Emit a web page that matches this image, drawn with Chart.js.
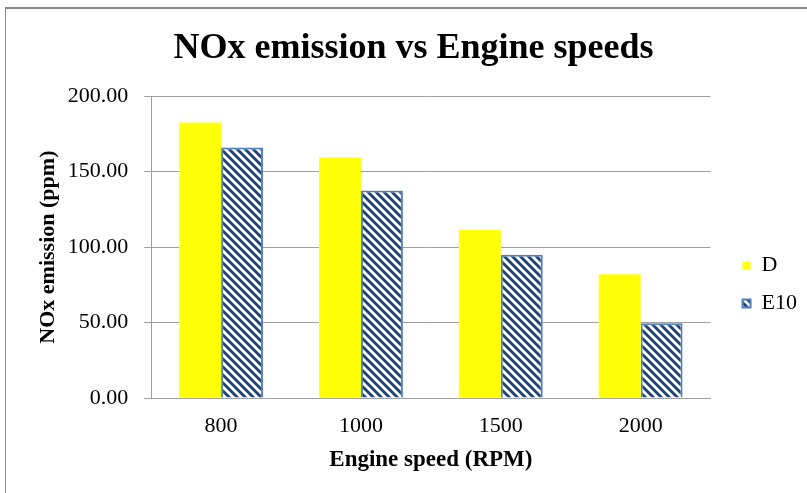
<!DOCTYPE html>
<html>
<head>
<meta charset="utf-8">
<script src="https://cdn.jsdelivr.net/npm/chart.js@4"></script>
<style>
  html, body { margin: 0; padding: 0; background: #fff; }
  #wrap { position: relative; width: 807px; height: 493px; overflow: hidden; }
  #frame { position: absolute; left: 5px; top: 7px; width: 820px; height: 500px; border: 1px solid #888; border-top-width: 2px; box-sizing: border-box; }
  canvas { position: absolute; left: 0; top: 0; }
</style>
</head>
<body>
<div id="wrap">
  <div id="frame"></div>
  <canvas id="noxChart" width="807" height="493"></canvas>
</div>
<script>
const speeds = ['800', '1000', '1500', '2000'];
const dValues = [182.5, 159.5, 111.5, 82.0];
const e10Values = [166.0, 137.5, 95.0, 49.5];
const yTicks = [0, 50, 100, 150, 200];

const serif = '"Liberation Serif", "Times New Roman", serif';

function dotPattern() {
  const c = document.createElement('canvas');
  c.width = 4; c.height = 4;
  const g = c.getContext('2d');
  g.fillStyle = '#ffff00';
  g.fillRect(0, 0, 4, 4);
  g.fillStyle = '#ffffc4';
  g.fillRect(1, 0, 1, 1);
  g.fillRect(0, 1, 1, 1);
  g.fillRect(2, 1, 1, 1);
  g.fillRect(1, 2, 1, 1);
  g.fillStyle = '#ffff70';
  g.fillRect(3, 3, 1, 1);
  return g.createPattern(c, 'repeat');
}

function stripePattern() {
  const c = document.createElement('canvas');
  c.width = 8; c.height = 8;
  const g = c.getContext('2d');
  g.fillStyle = '#ffffff';
  g.fillRect(0, 0, 8, 8);
  g.strokeStyle = '#1f4178';
  g.lineWidth = 2.8;
  [-8, 0, 8].forEach((o) => {
    g.beginPath();
    g.moveTo(o - 1, -1);
    g.lineTo(o + 9, 9);
    g.stroke();
  });
  return g.createPattern(c, 'repeat');
}

const ctx = document.getElementById('noxChart');
new Chart(ctx, {
  type: 'bar',
  data: {
    labels: speeds,
    datasets: [
      {
        label: 'D',
        data: dValues,
        backgroundColor: dotPattern(),
        borderWidth: 0,
      },
      {
        label: 'E10',
        data: e10Values,
        backgroundColor: stripePattern(),
        borderColor: '#4f7fbd',
        borderWidth: 2,
      },
    ],
  },
  options: {
    responsive: false,
    animation: false,
    layout: { padding: { left: 20, right: 0, top: 15, bottom: 19 } },
    datasets: { bar: { categoryPercentage: 0.6, barPercentage: 1 } },
    plugins: {
      title: {
        display: true,
        text: 'NOx emission vs Engine speeds',
        color: '#000',
        font: { family: serif, size: 36, weight: 'bold' },
        padding: { top: 12, bottom: 26 },
      },
      legend: {
        position: 'right',
        title: { display: true, text: ' ', font: { size: 10 }, padding: { top: 68, bottom: 0 } },
        labels: {
          color: '#000',
          font: { family: serif, size: 22 },
          boxWidth: 8,
          boxHeight: 8,
          padding: 16,
        },
      },
      tooltip: { enabled: false },
    },
    scales: {
      x: {
        grid: { display: false, tickLength: 8 },
        border: { display: true, color: '#a0a0a0' },
        ticks: { color: '#000', font: { family: serif, size: 22 }, padding: 7 },
        title: {
          display: true,
          text: 'Engine speed (RPM)',
          color: '#000',
          font: { family: serif, size: 23, weight: 'bold' },
          padding: { top: 0, bottom: 0 },
        },
      },
      y: {
        min: 0,
        max: 200,
        afterBuildTicks: (axis) => { axis.ticks = yTicks.map((v) => ({ value: v })); },
        grid: { color: '#a0a0a0', tickLength: 7, drawTicks: true },
        border: { display: true, color: '#a0a0a0' },
        ticks: {
          color: '#000',
          font: { family: serif, size: 22 },
          padding: 16,
          callback: (v) => Number(v).toFixed(2),
        },
        title: {
          display: true,
          text: 'NOx emission (ppm)',
          color: '#000',
          font: { family: serif, size: 22, weight: 'bold' },
          padding: { top: 15, bottom: 0 },
        },
      },
      // empty spacer between the plot and the legend
      gap: {
        position: 'right',
        display: true,
        grid: { display: false },
        border: { display: false },
        ticks: { display: false },
        afterFit: (axis) => { axis.width = 16; },
      },
    },
  },
});
</script>
</body>
</html>
